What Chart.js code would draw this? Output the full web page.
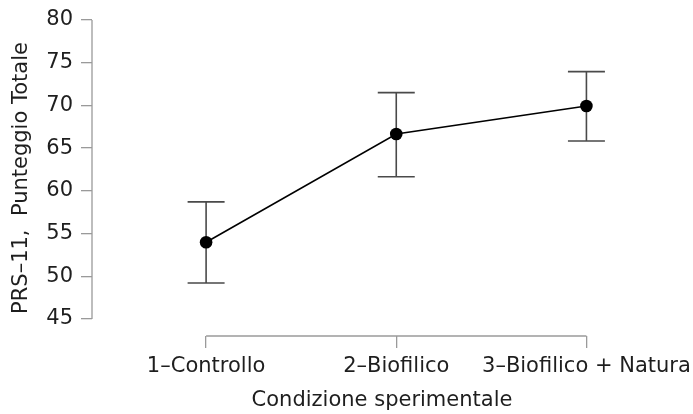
<!DOCTYPE html>
<html>
<head>
<meta charset="utf-8">
<script src="https://cdn.jsdelivr.net/npm/chart.js@4/dist/chart.umd.min.js"></script>
<style>
  html, body { margin: 0; padding: 0; background: #fff; }
  #wrap { width: 693px; height: 414px; }
</style>
</head>
<body>
<div id="wrap"><canvas id="c" width="693" height="414"></canvas></div>
<script>
// Condition labels and group means with 95% CI bounds
const conditions = ['1–Controllo', '2–Biofilico', '3–Biofilico + Natura'];
const conditionIndex = [1, 2, 3];
const means = [53.97, 66.65, 69.93];
const ciLower = [49.2, 61.65, 65.83];
const ciUpper = [58.7, 71.5, 73.95];
const yTicks = [45, 50, 55, 60, 65, 70, 75, 80];

const FONT = 'DejaVu Sans';
const FONT_SIZE = 21;
const AXIS_GREY = '#9a9a9a';
const TEXT = '#1e1e1e';

// Axis lines that span only the tick range, plus vertical error bars with caps
const jaspAxes = {
  id: 'jaspAxes',
  beforeDatasetsDraw(chart) {
    const { ctx, scales: { x, y }, chartArea } = chart;
    ctx.save();
    ctx.strokeStyle = AXIS_GREY;
    ctx.lineWidth = 1.3;
    // y axis line
    ctx.beginPath();
    ctx.moveTo(chartArea.left, y.getPixelForValue(yTicks[0]));
    ctx.lineTo(chartArea.left, y.getPixelForValue(yTicks[yTicks.length - 1]));
    ctx.stroke();
    // x axis line
    ctx.beginPath();
    ctx.moveTo(x.getPixelForValue(conditionIndex[0]), chartArea.bottom);
    ctx.lineTo(x.getPixelForValue(conditionIndex[conditionIndex.length - 1]), chartArea.bottom);
    ctx.stroke();

    // error bars
    ctx.strokeStyle = '#4a4a4a';
    ctx.lineWidth = 1.6;
    const cap = 18.5;
    conditionIndex.forEach((c, i) => {
      const px = x.getPixelForValue(c);
      const lo = y.getPixelForValue(ciLower[i]);
      const hi = y.getPixelForValue(ciUpper[i]);
      ctx.beginPath();
      ctx.moveTo(px, lo); ctx.lineTo(px, hi);
      ctx.moveTo(px - cap, lo); ctx.lineTo(px + cap, lo);
      ctx.moveTo(px - cap, hi); ctx.lineTo(px + cap, hi);
      ctx.stroke();
    });
    ctx.restore();
  }
};

new Chart(document.getElementById('c'), {
  type: 'line',
  data: {
    datasets: [{
      data: conditionIndex.map((c, i) => ({ x: c, y: means[i] })),
      borderColor: '#000',
      borderWidth: 1.6,
      pointRadius: 6.3,
      pointBackgroundColor: '#000',
      pointBorderColor: '#000',
      pointBorderWidth: 0,
      tension: 0,
      clip: false
    }]
  },
  options: {
    responsive: false,
    animation: false,
    events: [],
    layout: { padding: { left: 0, right: 21, top: 20, bottom: 0 } },
    plugins: { legend: { display: false }, tooltip: { enabled: false } },
    scales: {
      x: {
        type: 'linear',
        min: 0.4,
        max: 3.45,
        afterBuildTicks(scale) { scale.ticks = conditionIndex.map(v => ({ value: v })); },
        afterFit(scale) { scale.height = 414 - 336; scale.paddingLeft = 0; scale.paddingRight = 0; },
        border: { display: false },
        grid: { drawOnChartArea: false, drawTicks: true, tickLength: 12, color: AXIS_GREY, lineWidth: 1.3 },
        ticks: {
          autoSkip: false, maxRotation: 0, padding: 6,
          color: TEXT, font: { family: FONT, size: FONT_SIZE },
          callback: (v) => conditions[conditionIndex.indexOf(v)] ?? ''
        },
        title: {
          display: true, text: 'Condizione sperimentale',
          color: TEXT, font: { family: FONT, size: FONT_SIZE },
          padding: { top: 0, bottom: 1 }
        }
      },
      y: {
        min: 43,
        max: 80,
        afterBuildTicks(scale) { scale.ticks = yTicks.map(v => ({ value: v })); },
        afterFit(scale) { scale.width = 92; scale.paddingTop = 0; scale.paddingBottom = 0; },
        border: { display: false },
        grid: { drawOnChartArea: false, drawTicks: true, tickLength: 11, color: AXIS_GREY, lineWidth: 1.3 },
        ticks: { padding: 8, color: TEXT, font: { family: FONT, size: FONT_SIZE } },
        title: {
          display: true, text: 'PRS–11,  Punteggio Totale',
          color: TEXT, font: { family: FONT, size: FONT_SIZE },
          padding: { top: 9, bottom: 0 }
        }
      }
    }
  },
  plugins: [jaspAxes]
});
</script>
</body>
</html>
